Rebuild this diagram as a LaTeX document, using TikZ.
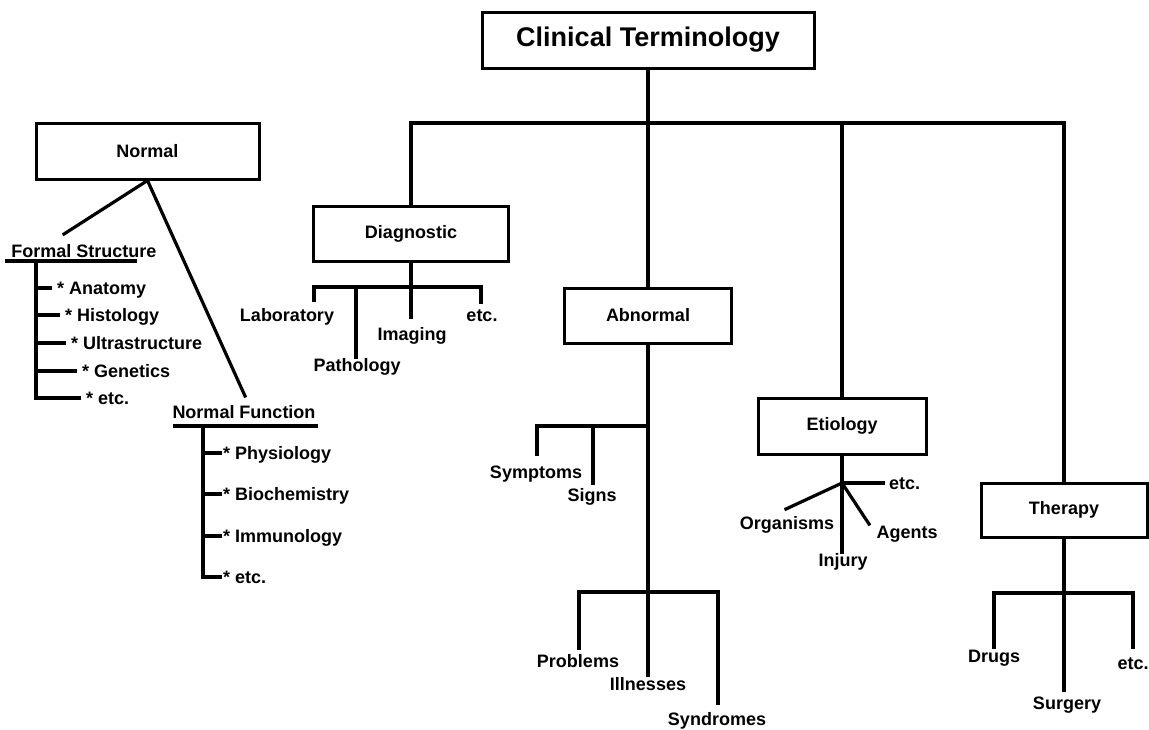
\documentclass[tikz,border=0pt]{standalone}
\usepackage{fontspec}
\setmainfont{Liberation Sans}
\begin{document}
\begin{tikzpicture}[x=1pt, y=-1pt,
  box_style/.style={draw=black, line width=3pt, rectangle, inner sep=0pt, font=\bfseries\fontsize{18}{20}\selectfont},
  label_style/.style={inner sep=0pt, text height=13pt, text depth=0pt, font=\bfseries\fontsize{18}{20}\selectfont},
  edge_style/.style={draw=black, line width=3.2pt, line cap=rect}]
  \useasboundingbox (0,0) rectangle (1149,729);
  \draw
    (648,40) node[box_style, minimum width=332, minimum height=56, font=\bfseries\fontsize{27}{30}\selectfont] (ct){Clinical Terminology}
    (147.5,151) node[box_style, minimum width=223, minimum height=56] (normal){Normal}
    (411,233.5) node[box_style, minimum width=195, minimum height=55] (diag){Diagnostic}
    (648,315.5) node[box_style, minimum width=167, minimum height=55] (abn){Abnormal}
    (842,426) node[box_style, minimum width=168, minimum height=56] (etio){Etiology}
    (1064,510) node[box_style, minimum width=166, minimum height=54] (ther){Therapy};
  \draw
    (84,251) node[label_style] (formal){Formal Structure}
    (57,288) node[label_style, anchor=west] (anat){* Anatomy}
    (65,315) node[label_style, anchor=west] (hist){* Histology}
    (71,343) node[label_style, anchor=west] (ultra){* Ultrastructure}
    (82,371) node[label_style, anchor=west] (genet){* Genetics}
    (86,398) node[label_style, anchor=west] (fetc){* etc.}
    (244,412) node[label_style] (func){Normal Function}
    (223,453) node[label_style, anchor=west] (phys){* Physiology}
    (223,494) node[label_style, anchor=west] (bioch){* Biochemistry}
    (223,536) node[label_style, anchor=west] (immun){* Immunology}
    (223,577) node[label_style, anchor=west] (netc){* etc.}
    (287,315) node[label_style] (lab){Laboratory}
    (357,365) node[label_style] (path){Pathology}
    (412,334) node[label_style] (img){Imaging}
    (482,315) node[label_style] (detc){etc.}
    (536,472) node[label_style] (sympt){Symptoms}
    (592,495) node[label_style] (signs){Signs}
    (578,661) node[label_style] (probl){Problems}
    (648,684) node[label_style] (illn){Illnesses}
    (717,719) node[label_style] (synd){Syndromes}
    (787,523) node[label_style] (organ){Organisms}
    (907,532) node[label_style] (agents){Agents}
    (843,560) node[label_style] (injury){Injury}
    (889,483) node[label_style, anchor=west] (eetc){etc.}
    (994,656) node[label_style] (drugs){Drugs}
    (1067,703) node[label_style] (surg){Surgery}
    (1133,663) node[label_style] (tetc){etc.};
  \coordinate (bus_d) at (411,123);
  \coordinate (bus_c) at (648,123);
  \coordinate (bus_e) at (842,123);
  \coordinate (bus_t) at (1064,123);
  \coordinate (dj) at (411,287);
  \coordinate (dl) at (314,287);
  \coordinate (dp) at (356,287);
  \coordinate (dr) at (481,287);
  \coordinate (dl_end) at (314,300);
  \coordinate (dp_end) at (356,357);
  \coordinate (di_end) at (411,317);
  \coordinate (dr_end) at (481,302);
  \coordinate (aj1) at (648,426);
  \coordinate (al) at (537,426);
  \coordinate (as) at (593,426);
  \coordinate (al_end) at (537,454);
  \coordinate (as_end) at (593,483);
  \coordinate (aj2) at (648,592);
  \coordinate (a2l) at (579,592);
  \coordinate (a2r) at (718,592);
  \coordinate (a2l_end) at (579,648);
  \coordinate (ai_end) at (648,675);
  \coordinate (a2r_end) at (718,703);
  \coordinate (ej) at (842,483);
  \coordinate (ee_end) at (883,483);
  \coordinate (eo_end) at (786,509);
  \coordinate (ea_end) at (869,524);
  \coordinate (ei_end) at (842,552);
  \coordinate (tj) at (1064,593);
  \coordinate (tl) at (994,593);
  \coordinate (tr) at (1133,593);
  \coordinate (tl_end) at (994,647);
  \coordinate (ts_end) at (1064,690);
  \coordinate (tr_end) at (1133,647);
  \coordinate (nf_end) at (64,234);
  \coordinate (nn_end) at (245,396);
  \coordinate (fu_l) at (7,261);
  \coordinate (fu_r) at (135,261);
  \coordinate (fs) at (36,261);
  \coordinate (nu_l) at (175,426);
  \coordinate (nu_r) at (316,426);
  \coordinate (ns) at (203,426);
  \begin{scope}[edge_style]
    \draw (ct.south) -- (bus_c);
    \draw (bus_d) -- (bus_t);
    \draw (bus_d) -- (diag.north);
    \draw (bus_c) -- (abn.north);
    \draw (bus_e) -- (etio.north);
    \draw (bus_t) -- (ther.north);
    \draw (diag.south) -- (dj);
    \draw (dl_end) -- (dl) -- (dr) -- (dr_end);
    \draw (dp) -- (dp_end);
    \draw (dj) -- (di_end);
    \draw (abn.south) -- (aj2);
    \draw (al_end) -- (al) -- (aj1);
    \draw (as) -- (as_end);
    \draw (a2l_end) -- (a2l) -- (a2r) -- (a2r_end);
    \draw (aj2) -- (ai_end);
    \draw (etio.south) -- (ei_end);
    \draw (ej) -- (ee_end);
    \draw (ej) -- (eo_end);
    \draw (ej) -- (ea_end);
    \draw (ther.south) -- (ts_end);
    \draw (tl_end) -- (tl) -- (tr) -- (tr_end);
    \draw (normal.south) -- (nf_end);
    \draw (normal.south) -- (nn_end);
    \draw (fu_l) -- (fu_r);
    \draw (fs) -- (fs |- fetc.west);
    \foreach \n in {anat,hist,ultra,genet,fetc}
      \draw[shorten >=7pt] (fs |- \n.west) -- (\n.west);
    \draw (nu_l) -- (nu_r);
    \draw (ns) -- (ns |- netc.west);
    \foreach \n in {phys,bioch,immun,netc}
      \draw[shorten >=3pt] (ns |- \n.west) -- (\n.west);
  \end{scope}
\end{tikzpicture}
\end{document}
